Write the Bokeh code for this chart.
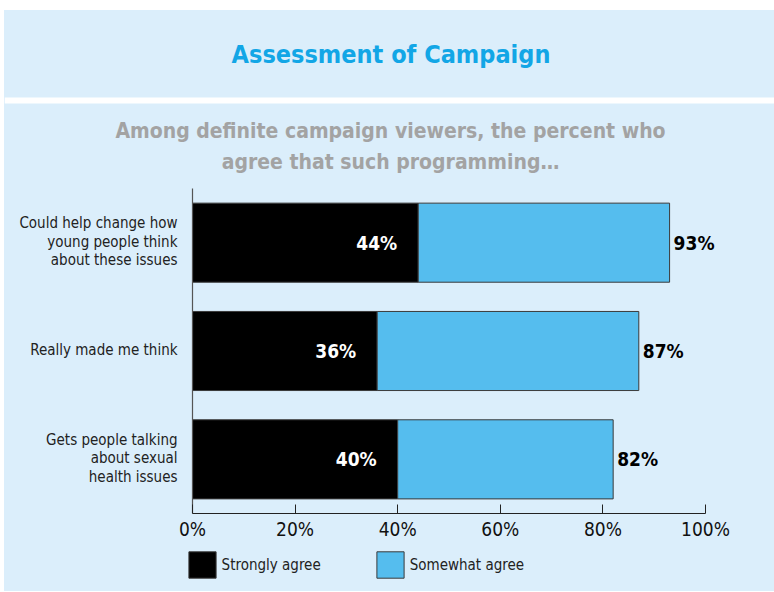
from bokeh.plotting import figure
from bokeh.layouts import column
from bokeh.models import (Range1d, FixedTicker, PrintfTickFormatter, Label, Legend,
                          LegendItem, BoxAnnotation)
from bokeh.embed import file_html
from bokeh.resources import INLINE
from bokeh.core.properties import value

# ---- data ----
categories = [
    "Could help change how\nyoung people think\nabout these issues",
    "Really made me think",
    "Gets people talking\nabout sexual\nhealth issues",
]
strongly_agree = [44, 36, 40]
total_agree = [93, 87, 82]
x_ticks = [0, 20, 40, 60, 80, 100]

# ---- styling ----
PANEL = "#dbeefb"
TITLE_BLUE = "#12a6e6"
SUB_GRAY = "#a3a3a3"
BAR_BLUE = "#55bdee"
OUTLINE = "#3a3a3a"
FONT = "DejaVu Sans Condensed, Roboto"

# page geometry helpers (page pixels -> data units of the chart)
AXIS_X0, PX_PER_PCT = 192, 5.13
AXIS_Y0, PX_PER_ROW = 513, 108.33


def dx(px):
    return (px - AXIS_X0) / PX_PER_PCT


def dy(py):
    return -0.5 + (AXIS_Y0 - py) / PX_PER_ROW


ypos = list(range(len(categories)))[::-1]          # first category on top


def styled(fig):
    fig.grid.visible = False
    fig.outline_line_color = None
    fig.background_fill_color = PANEL
    fig.border_fill_color = PANEL
    fig.styles = {"background-color": PANEL}
    return fig


# ---- main chart (title panel, subtitle, bars, axis) ----
p = styled(figure(width=770, height=535,
                  x_range=Range1d(dx(4), dx(774)), y_range=Range1d(dy(513), dy(10)),
                  y_axis_location=None,
                  output_backend="svg", toolbar_location=None,
                  min_border=0, min_border_bottom=32))

# white gap between the title panel and the chart panel
p.add_layout(BoxAnnotation(top=dy(97), bottom=dy(103), fill_color="white",
                           fill_alpha=1, line_color=None, level="underlay"))

p.add_layout(Label(x=dx(390.5), y=dy(54), text="Assessment of Campaign",
                   text_align="center", text_baseline="middle",
                   text_font=FONT, text_font_style="bold",
                   text_font_size="25px", text_color=TITLE_BLUE))
p.add_layout(Label(x=dx(390), y=dy(146),
                   text="Among definite campaign viewers, the percent who\nagree that such programming…",
                   text_align="center", text_baseline="middle",
                   text_font=FONT, text_font_style="bold", text_font_size="21px",
                   text_line_height=1.3, text_color=SUB_GRAY))

bar_h = 0.73
p.hbar(y=ypos, left=0, right=strongly_agree, height=bar_h,
       fill_color="black", line_color=OUTLINE, line_width=1)
p.hbar(y=ypos, left=strongly_agree, right=total_agree, height=bar_h,
       fill_color=BAR_BLUE, line_color=OUTLINE, line_width=1)

p.text(x=strongly_agree, y=ypos, text=[f"{v}%" for v in strongly_agree],
       x_offset=-21, text_align="right", text_baseline="middle",
       text_font=value(FONT), text_font_style="bold", text_font_size="19px",
       text_color="white")
p.text(x=total_agree, y=ypos, text=[f"{v}%" for v in total_agree],
       x_offset=4, text_align="left", text_baseline="middle",
       text_font=value(FONT), text_font_style="bold", text_font_size="19px",
       text_color="black")

# category axis: vertical rule and right-aligned names
p.segment(x0=[0], y0=[min(ypos) - 0.5], x1=[0], y1=[max(ypos) + 0.5],
          line_color="#555555", line_width=1.2)
p.text(x=[0] * len(ypos), y=ypos, text=categories, x_offset=-15, y_offset=-1,
       text_align="right", text_baseline="middle",
       text_font=value(FONT), text_font_size="15px", text_line_height=1.03,
       text_color="#222222")

xa = p.xaxis[0]
xa.ticker = FixedTicker(ticks=x_ticks)
xa.formatter = PrintfTickFormatter(format="%d%%")
xa.bounds = (0, 100)
xa.axis_line_color = "#222222"
xa.major_tick_line_color = "#222222"
xa.major_tick_in = 9
xa.major_tick_out = 0
xa.minor_tick_line_color = None
xa.major_label_standoff = 4
xa.major_label_text_font = FONT
xa.major_label_text_font_size = "19px"
xa.major_label_text_color = "#111111"

# ---- legend strip ----
leg = styled(figure(width=770, height=46, x_range=Range1d(0, 1), y_range=Range1d(0, 1),
                    x_axis_location=None, y_axis_location=None,
                    output_backend="svg", toolbar_location=None, min_border=0))
k_strong = leg.hbar(y=ypos, left=0, right=strongly_agree, height=bar_h,
                    fill_color="black", line_color=OUTLINE, visible=False)
k_some = leg.hbar(y=ypos, left=strongly_agree, right=total_agree, height=bar_h,
                  fill_color=BAR_BLUE, line_color=OUTLINE, visible=False)
legend = Legend(items=[LegendItem(label="Strongly agree", renderers=[k_strong]),
                       LegendItem(label="Somewhat agree", renderers=[k_some])],
                orientation="horizontal", location=(180.6, 9.7),
                glyph_width=34, glyph_height=33, label_height=33,
                label_standoff=3, spacing=52, padding=0, margin=0,
                border_line_color=None, background_fill_alpha=0,
                label_text_font=FONT, label_text_font_size="15px",
                label_text_color="#222222")
leg.add_layout(legend, "center")

layout = column(p, leg, spacing=0, margin=(10, 0, 0, 4))
open("out.html", "w").write(file_html(layout, INLINE))
